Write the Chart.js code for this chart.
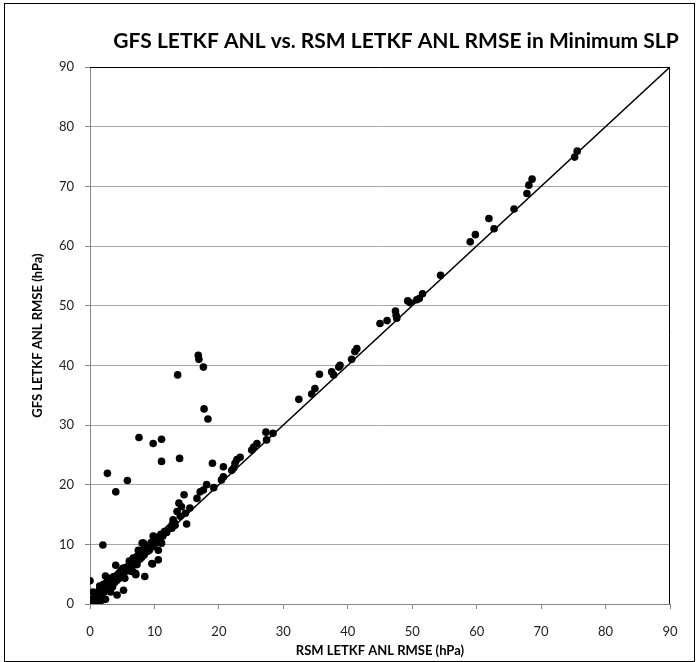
<!DOCTYPE html>
<html>
<head>
<meta charset="utf-8">
<script src="https://cdn.jsdelivr.net/npm/chart.js@4"></script>
<style>
  html, body { margin: 0; padding: 0; background: #fff; }
  #wrap { width: 699px; height: 662px; }
</style>
</head>
<body>
<div id="wrap"><canvas id="chart" width="699" height="662"></canvas></div>
<script>
// ---- data ----
const TITLE = "GFS LETKF ANL vs. RSM LETKF ANL RMSE in Minimum SLP";
const X_TITLE = "RSM LETKF ANL RMSE (hPa)";
const Y_TITLE = "GFS LETKF ANL RMSE (hPa)";
const AXIS_TICKS = [0, 10, 20, 30, 40, 50, 60, 70, 80, 90];

// x = RSM RMSE, y = GFS RMSE (same index)
const rsmRmse = [
  75.6, 75.2, 68.6, 68.1, 67.8, 65.8, 61.9, 62.7, 59.8, 59.0,
  54.4, 51.6, 51.1, 50.7, 49.7, 49.3, 47.4, 47.5, 47.6, 46.1,
  45.0, 41.4, 41.1, 40.6, 38.8, 38.6, 37.5, 37.8, 35.6, 34.9,
  34.4, 32.4, 27.3, 28.4, 27.4, 25.9, 25.4, 25.1, 23.3, 22.8,
  22.5, 22.3, 22.0, 20.7, 19.0, 20.7, 20.4, 19.2, 18.1, 17.6,
  17.1, 16.6, 14.6, 13.8, 14.2, 15.5, 13.5, 14.8, 14.0, 15.0,
  13.2, 12.9, 12.7, 11.4, 9.8, 10.4, 10.9, 8.3, 9.8, 11.1,
  7.5, 8.8, 10.6, 10.6, 9.6, 6.7, 7.2, 5.9, 5.2, 6.7,
  7.1, 8.5,
  // outliers
  16.8, 16.9, 17.6, 13.6, 17.7, 18.3, 7.6, 9.8, 11.1, 13.9,
  11.1, 2.7, 5.8, 4.0, 2.0, 0.0, 4.0, 2.4, 4.2, 5.2,
  9.7, 7.1, 8.1,
  // dense cluster near the origin
  0.0, 0.05, 0.1, 0.2, 0.2, 0.3, 0.4, 0.5, 0.6, 0.7,
  0.8, 0.9, 1.0, 1.1, 1.2, 1.2, 1.3, 1.4, 1.5, 1.5,
  1.6, 1.6, 1.7, 1.8, 1.9, 2.0, 2.0, 2.1, 2.2, 2.3,
  2.4, 2.5, 2.6, 2.7, 2.8, 3.0, 3.1, 3.2, 3.3, 3.4,
  3.5, 3.6, 3.8, 3.9, 4.1, 4.2, 4.4, 4.5, 4.7, 4.8,
  5.0, 5.1, 5.3, 5.4, 5.5, 5.7, 5.9, 6.0, 6.2, 6.3,
  6.5, 6.6, 6.8, 7.0, 7.2, 7.3, 7.5, 7.7, 7.9, 8.0,
  8.2, 8.4, 8.6, 8.9, 9.0, 9.2, 9.5, 9.7, 10.0, 10.2,
  10.5, 10.8, 11.0, 11.3, 11.6, 11.9, 12.2, 12.5, 12.8, 13.1,
  0.5, 1.0, 3.7, 6.1, 2.9
];
const gfsRmse = [
  75.9, 74.9, 71.2, 70.2, 68.8, 66.2, 64.6, 62.9, 61.9, 60.7,
  55.1, 52.0, 51.2, 51.0, 50.5, 50.8, 49.1, 48.4, 47.9, 47.5,
  47.0, 42.8, 42.3, 41.0, 40.0, 39.7, 38.9, 38.4, 38.5, 36.1,
  35.2, 34.3, 28.8, 28.6, 27.5, 26.9, 26.3, 25.8, 24.6, 24.2,
  23.6, 22.8, 22.4, 23.0, 23.6, 21.3, 20.8, 19.5, 20.0, 19.1,
  18.8, 17.7, 18.3, 16.9, 16.3, 16.1, 15.5, 15.2, 14.7, 13.4,
  13.2, 14.1, 12.7, 11.8, 11.4, 10.7, 10.7, 10.2, 10.4, 10.2,
  9.0, 9.3, 9.0, 7.4, 6.8, 7.7, 7.1, 6.2, 5.7, 5.4,
  4.9, 4.6,
  // outliers
  41.7, 41.0, 39.7, 38.4, 32.7, 31.0, 27.9, 26.9, 27.6, 24.4,
  23.9, 21.9, 20.7, 18.8, 9.9, 3.9, 6.5, 4.7, 1.5, 2.3,
  6.7, 5.1, 10.2,
  // dense cluster near the origin
  0.0, 0.3, 0.2, 0.5, 0.0, 0.1, 0.8, 0.3, 1.0, 0.4,
  1.2, 0.6, 1.5, 0.8, 1.8, 0.3, 1.0, 2.2, 1.3, 3.0,
  2.6, 0.5, 1.6, 3.0, 1.9, 2.3, 0.7, 3.3, 2.0, 2.8,
  0.8, 3.5, 2.4, 3.0, 4.3, 2.7, 3.6, 2.0, 3.2, 4.0,
  2.9, 4.5, 3.6, 4.1, 3.9, 4.8, 4.2, 5.2, 4.6, 5.6,
  4.9, 6.0, 5.3, 4.3, 6.1, 5.6, 6.3, 5.8, 6.8, 5.5,
  7.0, 6.4, 7.4, 7.0, 7.9, 6.6, 8.2, 7.5, 8.8, 7.8,
  9.0, 8.2, 9.3, 8.8, 9.8, 9.0, 10.3, 9.6, 10.9, 10.2,
  11.2, 10.9, 11.7, 11.4, 12.2, 12.0, 12.6, 12.9, 13.4, 13.6,
  2.0, 0.4, 4.6, 7.2, 3.4
];

// 1:1 reference line
const lineX = [0, 90];
const lineY = [0, 90];

// ---- chart ----
const FONT = "Lato, 'Open Sans', 'DejaVu Sans', sans-serif";
const scatterPts = rsmRmse.map((x, i) => ({ x: x, y: gfsRmse[i] }));
const linePts = lineX.map((x, i) => ({ x: x, y: lineY[i] }));

// frame, title and plot border
const decorPlugin = {
  id: "decor",
  afterDraw(chart) {
    const ctx = chart.ctx;
    const a = chart.chartArea;
    ctx.save();
    ctx.strokeStyle = "#000";
    ctx.lineWidth = 1;
    ctx.strokeRect(4.5, 3.5, 690, 658);
    // plot top + right border
    ctx.beginPath();
    ctx.moveTo(a.left, a.top + 0.5);
    ctx.lineTo(a.right - 0.5, a.top + 0.5);
    ctx.lineTo(a.right - 0.5, a.bottom);
    ctx.stroke();
    ctx.fillStyle = "#000";
    ctx.font = "bold 21px " + FONT;
    ctx.textAlign = "center";
    ctx.textBaseline = "middle";
    ctx.fillText(TITLE, 396, 41);
    ctx.restore();
  }
};

new Chart(document.getElementById("chart"), {
  type: "scatter",
  data: {
    datasets: [
      {
        label: "RMSE",
        data: scatterPts,
        backgroundColor: "#000",
        borderColor: "#000",
        pointRadius: 3.8,
        pointHoverRadius: 3.8,
        borderWidth: 0
      },
      {
        type: "line",
        label: "1:1",
        data: linePts,
        borderColor: "#000",
        borderWidth: 1.5,
        pointRadius: 0,
        fill: false
      }
    ]
  },
  options: {
    responsive: false,
    animation: false,
    layout: { padding: { left: 8, top: 67, right: 29, bottom: 0 } },
    plugins: {
      legend: { display: false },
      tooltip: { enabled: false },
      title: { display: false }
    },
    scales: {
      x: {
        type: "linear",
        min: 0, max: 90,
        afterFit(scale) { scale.height = 58; },
        afterBuildTicks(scale) { scale.ticks = AXIS_TICKS.map(v => ({ value: v })); },
        grid: { drawOnChartArea: false, drawTicks: true, tickLength: 5, color: "#868686" },
        border: { color: "#868686", width: 1 },
        ticks: { padding: 15, color: "#222", font: { family: FONT, size: 13 } },
        title: {
          display: true, text: X_TITLE, color: "#000",
          font: { family: FONT, size: 13, weight: "bold" },
          padding: { top: 0, bottom: 3 }
        }
      },
      y: {
        type: "linear",
        min: 0, max: 90,
        afterFit(scale) { scale.width = 82; },
        afterBuildTicks(scale) { scale.ticks = AXIS_TICKS.map(v => ({ value: v })); },
        grid: { color: "#a6a6a6", lineWidth: 1, drawTicks: true, tickLength: 5, tickColor: "#868686" },
        border: { color: "#868686", width: 1 },
        ticks: { padding: 11, color: "#222", font: { family: FONT, size: 13 } },
        title: {
          display: true, text: Y_TITLE, color: "#000",
          font: { family: FONT, size: 13, weight: "bold" },
          padding: { top: 22, bottom: 0 }
        }
      }
    }
  },
  plugins: [decorPlugin]
});
</script>
</body>
</html>
